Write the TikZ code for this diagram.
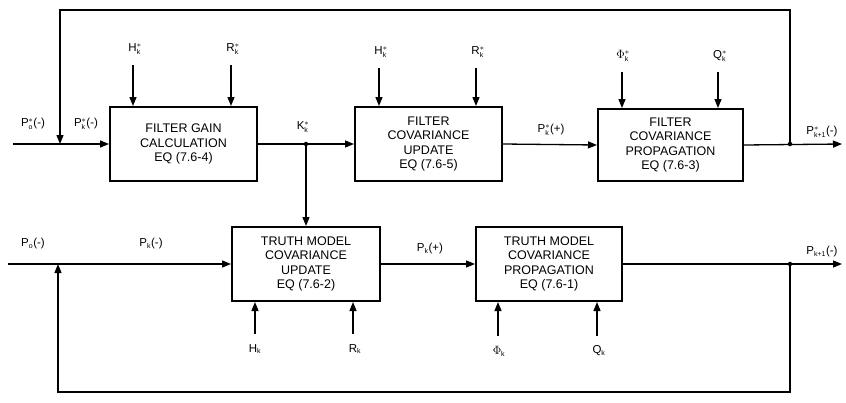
\documentclass[tikz,border=0pt]{standalone}
\usepackage{fontspec}
\setmainfont{Liberation Sans}
\usetikzlibrary{arrows.meta}
\newcommand{\qs}[3]{\mbox{#1}$^{\ast}_{\mbox{\scriptsize #2}}$\mbox{#3}}
\newcommand{\qn}[3]{\mbox{#1}$_{\mbox{\scriptsize #2}}$\mbox{#3}}
\begin{document}
\begin{tikzpicture}[x=1pt,y=-1pt, line width=1.3pt,
  arr/.style={-{Triangle[length=9pt,width=7pt]}},
  box/.style={draw, line width=2pt, minimum width=147pt, minimum height=74pt, align=center,
    font=\fontsize{12.5}{14.5}\selectfont, inner sep=0pt},
  lbl/.style={font=\fontsize{11.5}{12}\selectfont, inner sep=0pt},
  dot/.style={circle, fill, inner sep=0pt, minimum size=4.5pt}]
\useasboundingbox (0,0) rectangle (846,402);

% boxes
\node[box] (b1) at (183.5,144) {FILTER GAIN\\CALCULATION\\EQ (7.6-4)};
\node[box] (b2) at (428.5,144) {FILTER\\COVARIANCE\\UPDATE\\EQ (7.6-5)};
\node[box, minimum width=145pt, minimum height=72pt] (b3) at (670.5,145) {FILTER\\COVARIANCE\\PROPAGATION\\EQ (7.6-3)};
\node[box, minimum width=148pt] (b4) at (306,264) {TRUTH MODEL\\COVARIANCE\\UPDATE\\EQ (7.6-2)};
\node[box, minimum width=146pt] (b5) at (549,264) {TRUTH MODEL\\COVARIANCE\\PROPAGATION\\EQ (7.6-1)};

% top row coordinates
\coordinate (inL) at (13,144);
\coordinate (j0) at (60,144);
\coordinate (tl) at (60,10);
\coordinate (tr) at (790,10);
\coordinate (jr) at (790,144);
\coordinate (outR) at (842,144);
\coordinate (kj) at (306,144);

% bottom row coordinates
\coordinate (inL2) at (8,264);
\coordinate (j2) at (58,264);
\coordinate (bl) at (58,392);
\coordinate (br) at (790,392);
\coordinate (jr2) at (790,264);
\coordinate (outR2) at (842,264);

% main flow top
\draw[arr] (inL) -- (b1.west);
\draw (b1.east) -- (kj);
\draw[arr] (kj) -- (b2.west);
\draw[arr] (kj) -- (kj |- b4.north);
\draw[arr] (b2.east) -- (b3.west);
\draw[arr] (b3.east) -- (outR);
\draw[arr] (jr) -- (tr) -- (tl) -- (j0);
\node[dot] (dk) at (kj) {};
\node[dot] (dr) at (jr) {};

% main flow bottom
\draw[arr] (inL2) -- (b4.west);
\draw[arr] (b4.east) -- (b5.west);
\draw[arr] (b5.east) -- (outR2);
\draw[arr] (jr2) -- (br) -- (bl) -- (j2);
\node[dot] (dr2) at (jr2) {};

% top inputs
\coordinate (h1) at (133,65);
\coordinate (r1) at (231,65);
\coordinate (h2) at (379,68);
\coordinate (r2) at (476,68);
\coordinate (f3) at (622,72);
\coordinate (q3) at (718,72);
\draw[arr] (h1) -- (h1 |- b1.north);
\draw[arr] (r1) -- (r1 |- b1.north);
\draw[arr] (h2) -- (h2 |- b2.north);
\draw[arr] (r2) -- (r2 |- b2.north);
\draw[arr] (f3) -- (f3 |- b3.north);
\draw[arr] (q3) -- (q3 |- b3.north);
\node[lbl] (lh1) at (135,49) {\qs{H}{k}{}};
\node[lbl] (lr1) at (233,49) {\qs{R}{k}{}};
\node[lbl] (lh2) at (381,52) {\qs{H}{k}{}};
\node[lbl] (lr2) at (478,52) {\qs{R}{k}{}};
\node[lbl] (lf3) at (623,56) {\qs{$\Phi$}{k}{}};
\node[lbl] (lq3) at (720,56) {\qs{Q}{k}{}};

% bottom inputs
\coordinate (h4) at (255,334);
\coordinate (r4) at (353,334);
\coordinate (f5) at (498,336);
\coordinate (q5) at (597,336);
\draw[arr] (h4) -- (h4 |- b4.south);
\draw[arr] (r4) -- (r4 |- b4.south);
\draw[arr] (f5) -- (f5 |- b5.south);
\draw[arr] (q5) -- (q5 |- b5.south);
\node[lbl] (lh4) at (255,349) {\qn{H}{k}{}};
\node[lbl] (lr4) at (355,349) {\qn{R}{k}{}};
\node[lbl] (lf5) at (499,351) {\qn{$\Phi$}{k}{}};
\node[lbl] (lq5) at (599,351) {\qn{Q}{k}{}};

% signal labels
\node[lbl] (lp0s) at (33,124) {\qs{P}{o}{(-)}};
\node[lbl] (lpks) at (86,124) {\qs{P}{k}{(-)}};
\node[lbl] (lks) at (303,127) {\qs{K}{k}{}};
\node[lbl] (lpkp) at (551,130) {\qs{P}{k}{(+)}};
\node[lbl] (lpk1s) at (822,132) {\qs{P}{k+1}{(-)}};
\node[lbl] (lp0) at (33,244) {\qn{P}{o}{(-)}};
\node[lbl] (lpk) at (151,244) {\qn{P}{k}{(-)}};
\node[lbl] (lpkpl) at (430,249) {\qn{P}{k}{(+)}};
\node[lbl] (lpk1) at (822,252) {\qn{P}{k+1}{(-)}};
\end{tikzpicture}
\end{document}
